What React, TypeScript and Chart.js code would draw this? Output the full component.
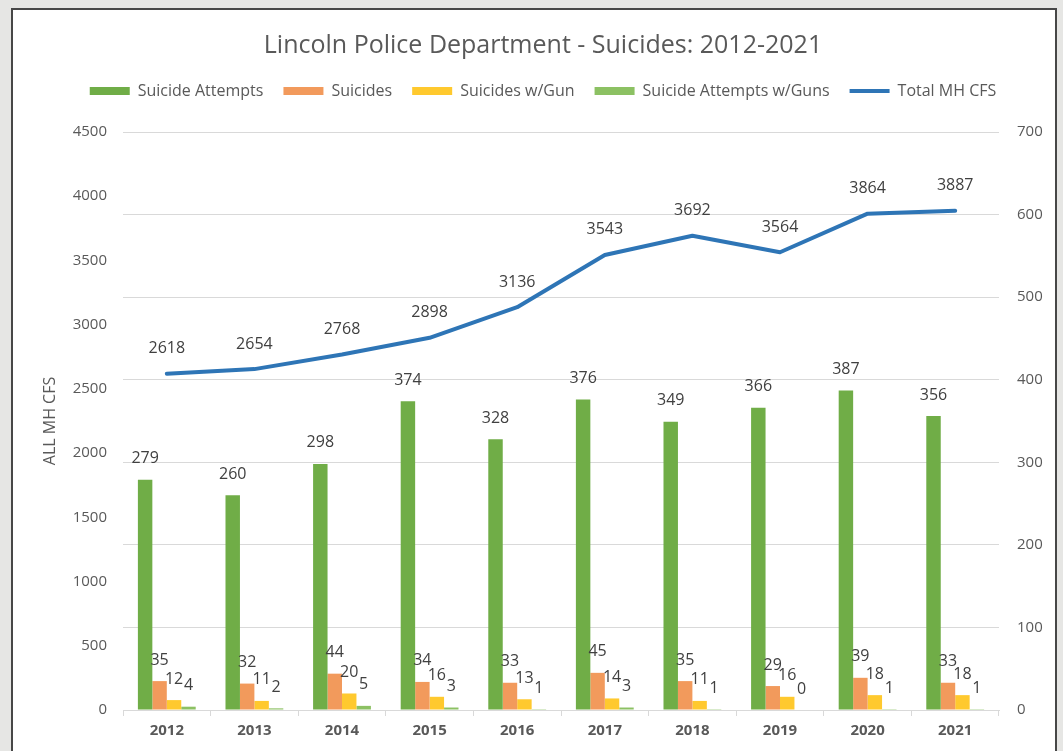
import React, { useEffect, useRef } from "react";
import { Chart, registerables } from "chart.js";

Chart.register(...registerables);

const years = ["2012", "2013", "2014", "2015", "2016", "2017", "2018", "2019", "2020", "2021"];
const suicideAttempts = [279, 260, 298, 374, 328, 376, 349, 366, 387, 356];
const suicides = [35, 32, 44, 34, 33, 45, 35, 29, 39, 33];
const suicidesWithGun = [12, 11, 20, 16, 13, 14, 11, 16, 18, 18];
const attemptsWithGuns = [4, 2, 5, 3, 1, 3, 1, 0, 1, 1];
const totalMhCfs = [2618, 2654, 2768, 2898, 3136, 3543, 3692, 3564, 3864, 3887];

const FONT = "'Open Sans', 'Noto Sans', sans-serif";
const TEXT = "#595959";

const valueLabels = {
  id: "valueLabels",
  afterDatasetsDraw(chart: any) {
    const ctx = chart.ctx;
    ctx.save();
    ctx.font = `16px ${FONT}`;
    ctx.fillStyle = "#404040";
    ctx.textAlign = "center";
    ctx.textBaseline = "middle";
    chart.data.datasets.forEach((ds: any, i: number) => {
      const meta = chart.getDatasetMeta(i);
      const isLine = meta.type === "line";
      meta.data.forEach((el: any, j: number) => {
        ctx.fillText(String(ds.data[j]), el.x, el.y - (isLine ? 25 : 21));
      });
    });
    ctx.restore();
  },
};

const legendMargin = {
  id: "legendMargin",
  beforeInit(chart: any) {
    const lg = chart.legend;
    if (!lg) return;
    const orig = lg.fit;
    lg.fit = function fit() {
      orig.call(lg);
      lg.height += 23;
    };
  },
};

export default function App() {
  const ref = useRef<HTMLCanvasElement>(null);
  useEffect(() => {
    if (!ref.current) return;
    const chart = new Chart(ref.current, {
      type: "bar",
      data: {
        labels: years,
        datasets: [
          { type: "bar", label: "Suicide Attempts", data: suicideAttempts, backgroundColor: "#70AD47", yAxisID: "y1" },
          { type: "bar", label: "Suicides", data: suicides, backgroundColor: "#F29A5C", yAxisID: "y1" },
          { type: "bar", label: "Suicides w/Gun", data: suicidesWithGun, backgroundColor: "#FFC92E", yAxisID: "y1" },
          { type: "bar", label: "Suicide Attempts w/Guns", data: attemptsWithGuns, backgroundColor: "#8CC163", yAxisID: "y1" },
          {
            type: "line",
            label: "Total MH CFS",
            data: totalMhCfs,
            borderColor: "#2E75B6",
            backgroundColor: "#2E75B6",
            borderWidth: 4,
            pointRadius: 0,
            tension: 0,
            borderJoinStyle: "round",
            borderCapStyle: "round",
            yAxisID: "y",
          } as any,
        ],
      },
      options: {
        responsive: false,
        animation: false,
        devicePixelRatio: 1,
        layout: { padding: { left: 23, right: 0, top: 0, bottom: 0 } },
        datasets: { bar: { categoryPercentage: 0.66, barPercentage: 1 } },
        plugins: {
          tooltip: { enabled: false },
          title: {
            display: true,
            text: "Lincoln Police Department - Suicides: 2012-2021",
            color: TEXT,
            font: { family: FONT, size: 25, weight: "normal" },
            padding: { top: 31, bottom: 2 },
          },
          legend: {
            display: true,
            position: "top",
            labels: {
              color: TEXT,
              font: { family: FONT, size: 16 },
              usePointStyle: true,
              pointStyleWidth: 40,
              boxHeight: 8,
              padding: 20,
              generateLabels(chart: any) {
                const items = (Chart.defaults.plugins.legend.labels as any).generateLabels(chart);
                return items.map((it: any) => {
                  const ds = chart.data.datasets[it.datasetIndex];
                  if (ds.type === "line") {
                    return { ...it, pointStyle: "line", lineWidth: 4, strokeStyle: "#2E75B6" };
                  }
                  return { ...it, pointStyle: "rect", lineWidth: 0 };
                });
              },
            },
          },
        },
        scales: {
          x: {
            offset: true,
            grid: { drawOnChartArea: false, drawTicks: true, tickLength: 6, color: "#D9D9D9", offset: true },
            border: { display: true, color: "#D9D9D9" },
            ticks: { color: TEXT, font: { family: FONT, size: 15, weight: "bold" }, padding: 6 },
            afterFit(s: any) {
              s.height = 41;
            },
          },
          y: {
            position: "left",
            min: 0,
            max: 4500,
            grid: { display: false, drawTicks: false },
            border: { display: false },
            ticks: {
              stepSize: 500,
              color: TEXT,
              font: { family: FONT, size: 15 },
              padding: 16,
              callback: (v: any) => String(v),
            },
            title: {
              display: true,
              text: "ALL MH CFS",
              color: TEXT,
              font: { family: FONT, size: 16 },
              padding: { top: 18, bottom: 0 },
            },
            afterFit(s: any) {
              s.width = 100;
            },
          },
          y1: {
            position: "right",
            min: 0,
            max: 700,
            grid: { color: "#D9D9D9", drawTicks: false },
            border: { display: false },
            ticks: {
              stepSize: 100,
              color: TEXT,
              font: { family: FONT, size: 15 },
              padding: 18,
              callback: (v: any) => String(v),
            },
            afterFit(s: any) {
              s.width = 64;
            },
          },
        },
      },
      plugins: [valueLabels, legendMargin],
    } as any);
    return () => chart.destroy();
  }, []);

  return (
    <div
      style={{
        position: "absolute",
        left: 0,
        top: 0,
        width: 1063,
        height: 751,
        overflow: "hidden",
        background: "#E6E6E4",
      }}
    >
      <div
        style={{
          position: "absolute",
          left: 11,
          top: 8,
          width: 1042,
          height: 800,
          border: "2px solid #474747",
          background: "#FFFFFF",
        }}
      />
      <canvas ref={ref} width={1063} height={751} style={{ position: "absolute", left: 0, top: 0 }} />
    </div>
  );
}
